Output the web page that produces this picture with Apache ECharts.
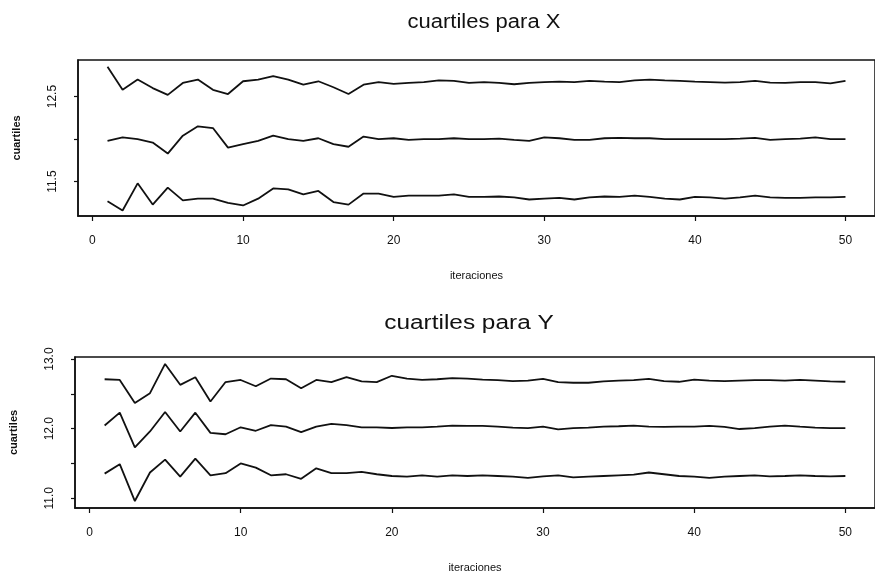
<!DOCTYPE html>
<html>
<head>
<meta charset="utf-8">
<script src="https://cdn.jsdelivr.net/npm/echarts@6/dist/echarts.min.js"></script>
<style>html,body{margin:0;padding:0;background:#fff;}#c{width:875px;height:574px;}</style>
</head>
<body>
<div id="c"></div>
<script>
const iteraciones = [1,2,3,4,5,6,7,8,9,10,11,12,13,14,15,16,17,18,19,20,21,22,23,24,25,26,27,28,29,30,31,32,33,34,35,36,37,38,39,40,41,42,43,44,45,46,47,48,49,50];
const xTicks = [0,10,20,30,40,50];

const tituloX = "cuartiles para X";
const tituloY = "cuartiles para Y";
const ejeX = "iteraciones";
const ejeY = "cuartiles";

// Cuartiles para X
const xQ3 = [12.85,12.58,12.70,12.60,12.52,12.66,12.70,12.58,12.53,12.68,12.70,12.74,12.70,12.64,12.68,12.61,12.53,12.64,12.67,12.65,12.66,12.67,12.69,12.685,12.66,12.67,12.66,12.645,12.66,12.67,12.675,12.67,12.685,12.675,12.67,12.69,12.70,12.69,12.685,12.675,12.67,12.665,12.67,12.685,12.665,12.66,12.67,12.67,12.655,12.685];
const xQ2 = [11.98,12.02,12.00,11.96,11.83,12.04,12.15,12.13,11.90,11.94,11.98,12.04,12.00,11.98,12.01,11.94,11.91,12.03,12.00,12.01,11.99,12.00,12.00,12.01,12.00,12.00,12.005,11.99,11.98,12.02,12.01,11.99,11.99,12.01,12.015,12.01,12.01,12.00,12.00,12.00,12.00,12.00,12.005,12.015,11.99,12.00,12.005,12.02,12.00,12.00];
const xQ1 = [11.27,11.16,11.48,11.23,11.43,11.28,11.30,11.30,11.25,11.22,11.30,11.42,11.41,11.35,11.39,11.26,11.23,11.36,11.36,11.32,11.335,11.335,11.335,11.35,11.32,11.32,11.325,11.315,11.29,11.30,11.31,11.29,11.315,11.325,11.32,11.335,11.32,11.30,11.29,11.32,11.315,11.30,11.315,11.335,11.315,11.31,11.31,11.315,11.315,11.32];

// Cuartiles para Y
const yQ3 = [12.71,12.70,12.37,12.51,12.93,12.63,12.74,12.39,12.67,12.70,12.61,12.72,12.71,12.58,12.70,12.67,12.74,12.68,12.67,12.76,12.72,12.70,12.71,12.725,12.72,12.706,12.697,12.683,12.69,12.716,12.67,12.66,12.66,12.68,12.69,12.697,12.716,12.683,12.674,12.706,12.69,12.683,12.69,12.697,12.697,12.69,12.70,12.69,12.68,12.674];
const yQ2 = [12.045,12.23,11.73,11.96,12.24,11.96,12.23,11.94,11.92,12.02,11.97,12.05,12.03,11.95,12.03,12.07,12.05,12.02,12.02,12.01,12.02,12.02,12.03,12.045,12.04,12.04,12.03,12.016,12.007,12.03,11.99,12.007,12.016,12.03,12.035,12.045,12.03,12.025,12.03,12.03,12.04,12.025,11.995,12.007,12.03,12.045,12.03,12.016,12.007,12.007];
const yQ1 = [11.354,11.49,10.96,11.37,11.555,11.31,11.57,11.33,11.36,11.50,11.44,11.33,11.345,11.28,11.43,11.36,11.36,11.38,11.345,11.32,11.31,11.33,11.31,11.33,11.32,11.33,11.32,11.31,11.294,11.315,11.33,11.30,11.31,11.32,11.33,11.34,11.37,11.345,11.32,11.31,11.294,11.31,11.32,11.33,11.315,11.32,11.33,11.32,11.315,11.32];

const yTicksX = [11.5,12.0,12.5];
const yLabelsX = [11.5,12.5];
const yTicksY = [11.0,11.5,12.0,12.5,13.0];
const yLabelsY = [11.0,12.0,13.0];

function pairs(vals){ return iteraciones.map((it,k)=>[it, vals[k]]); }

const chart = echarts.init(document.getElementById('c'), null, {renderer:'canvas'});
const ink = '#111';
const fontFam = 'Liberation Sans, Arial, sans-serif';

function xAxis(gi){
  return {
    type:'value', gridIndex:gi, min:-0.96, max:51.96,
    name: ejeX, nameLocation:'middle', nameGap: 54,
    nameTextStyle:{color:ink, fontSize:11, fontFamily:fontFam},
    axisLine:{show:true, onZero:false, lineStyle:{color:ink, width:1.5}},
    axisTick:{show:true, customValues:xTicks, length:5, inside:false, lineStyle:{color:ink, width:1.2}},
    axisLabel:{show:true, customValues:xTicks, color:ink, fontSize:12, fontFamily:fontFam, margin:19},
    splitLine:{show:false}
  };
}
function yAxis(gi, mn, mx, ticks, labels){
  return {
    type:'value', gridIndex:gi, min:mn, max:mx,
    name: ejeY, nameLocation:'middle', nameGap: 56, nameRotate:90,
    nameTextStyle:{color:ink, fontSize:11, fontWeight:'bold', fontFamily:fontFam},
    axisLine:{show:true, onZero:false, lineStyle:{color:ink, width:1.5}},
    axisTick:{show:true, customValues:ticks, length:4, lineStyle:{color:ink, width:1.2}},
    axisLabel:{show:true, customValues:labels, rotate:90, color:ink, fontSize:12, fontFamily:fontFam, margin:19,
      formatter:(v)=>v.toFixed(1)},
    splitLine:{show:false}
  };
}
function line(gi, vals){
  return {type:'line', xAxisIndex:gi, yAxisIndex:gi, data:pairs(vals), showSymbol:false, symbol:'none',
    lineStyle:{color:ink, width:1.8}, animation:false, silent:true};
}

chart.setOption({
  backgroundColor:'#fff',
  animation:false,
  grid:[
    {left:78, width:802, top:60, height:156, show:true, borderColor:ink, borderWidth:1.5, backgroundColor:'transparent'},
    {left:75, width:801, top:357, height:155, show:true, borderColor:ink, borderWidth:1.5, backgroundColor:'transparent'}
  ],
  xAxis:[xAxis(0), xAxis(1)],
  yAxis:[yAxis(0, 11.096, 12.93, yTicksX, yLabelsX), yAxis(1, 10.86, 13.03, yTicksY, yLabelsY)],
  series:[line(0,xQ3), line(0,xQ2), line(0,xQ1), line(1,yQ3), line(1,yQ2), line(1,yQ1)],
  graphic:[
    {type:'text', x:484, y:22, scaleX:1.1, style:{text:tituloX, fill:ink, font:'20px '+fontFam, textAlign:'center', textVerticalAlign:'middle'}},
    {type:'text', x:469, y:323, scaleX:1.22, style:{text:tituloY, fill:ink, font:'20px '+fontFam, textAlign:'center', textVerticalAlign:'middle'}}
  ]
});
</script>
</body>
</html>
